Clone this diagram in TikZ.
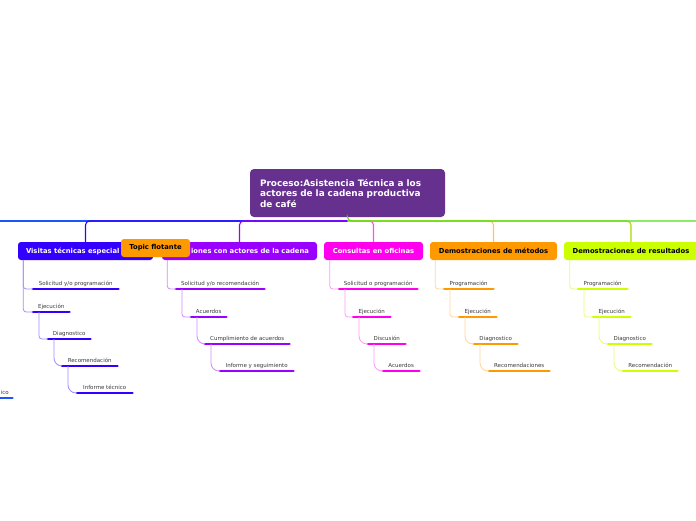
\documentclass[tikz,border=0pt]{standalone}
\usepackage{fontspec}
\setmainfont{DejaVu Sans}
\usetikzlibrary{calc}
\definecolor{cblue}{HTML}{3300FF}
\definecolor{offblue}{HTML}{1A55FF}
\definecolor{cpurple}{HTML}{9900FF}
\definecolor{cpink}{HTML}{FF00EE}
\definecolor{corange}{HTML}{FF9900}
\definecolor{cyellow}{HTML}{CCFF00}
\definecolor{cgreen}{HTML}{55E019}
\definecolor{cmain}{HTML}{66308F}
\definecolor{itemtext}{HTML}{3A3A3A}
\tikzset{
  maintopic/.style={fill=cmain, rounded corners=4pt, text=white, inner xsep=10pt, inner ysep=0pt,
    minimum height=48pt, text width=175pt, align=left,
    font=\bfseries\fontsize{8.9}{10.5}\selectfont},
  topicbox/.style={rounded corners=3pt, minimum height=18pt, inner sep=0pt,
    font=\bfseries\fontsize{6.8}{8}\selectfont},
  itembox/.style={font=\fontsize{5.5}{6.5}\selectfont, text=itemtext, anchor=south west,
    inner xsep=4.5pt, inner ysep=0pt, text height=4pt, text depth=3.7pt,
    append after command={(\tikzlastnode.south west) edge[line width=2.8pt, line cap=round, draw=#1] (\tikzlastnode.south east)}},
  mainline/.style={line width=1.1pt, rounded corners=4pt},
  conn/.style={line width=0.8pt, rounded corners=#1},
}
\begin{document}
\begin{tikzpicture}[x=1pt,y=-1pt]
\fill[white] (0,0) rectangle (696,520);
\useasboundingbox (0,0) rectangle (696,520);

% central topic
\node[maintopic] (center) at (347.5,193) {Proceso:Asistencia Técnica a los actores de la cadena productiva de café};

% main topics
\node[topicbox, fill=cblue, text=white, inner xsep=8pt, text width=119pt, align=left] (vis) at (85.5,251) {Visitas técnicas especial};
\node[topicbox, fill=cpurple, text=white, inner xsep=8pt, text width=139pt, align=right] (reu) at (239.5,251) {iones con actores de la cadena};
\node[topicbox, fill=cpink, text=white, minimum width=99pt] (con) at (373.5,251) {Consultas en oficinas};
\node[topicbox, fill=corange, text=black, minimum width=127pt] (met) at (493.5,251) {Demostraciones de métodos};
\node[topicbox, fill=cyellow, text=black, minimum width=134pt] (res) at (631,251) {Demostraciones de resultados};

% main connectors
\coordinate (hub) at (347.5,221);
\coordinate (edgeL) at (-2,221);
\coordinate (edgeR) at (698,221);
\draw[mainline, offblue] (hub) -- (edgeL);
\draw[mainline, cblue] (hub) -| (vis.north);
\draw[mainline, cpurple] (hub) -| (reu.north);
\draw[mainline, cpink!70!white] (hub) -| (con.north);
\draw[mainline, corange!60!white] (hub) -| (met.north);
\draw[mainline, cyellow!85!black] (hub) -| (res.north);
\draw[mainline, cgreen] (center.south) -- (hub) -- (edgeR);

% Visitas items
\node[itembox=cblue, minimum width=85pt] (v1) at (33,289) {Solicitud y/o programación};
\node[itembox=cblue, minimum width=36pt] (v2) at (33,312) {Ejecución};
\node[itembox=cblue, minimum width=42pt] (v3) at (48,339) {Diagnostico};
\node[itembox=cblue, minimum width=55pt] (v4) at (62,366) {Recomendación};
\node[itembox=cblue, minimum width=55pt] (v5) at (77,393) {Informe técnico};
\begin{scope}[draw=cblue!45!white]
\draw[conn=3pt] (vis.south west) ++(5.5,0) |- (v1.south west);
\draw[conn=3pt] (vis.south west) ++(5.5,0) |- (v2.south west);
\draw[conn=3pt] (v2.south west) ++(6,0) |- (v3.south west);
\draw[conn=8pt] (v3.south west) ++(6,0) |- (v4.south west);
\draw[conn=8pt] (v4.south west) ++(6,0) |- (v5.south west);
\end{scope}

% off-canvas item
\node[itembox=offblue, minimum width=15pt, inner xsep=3.5pt] (o1) at (-3,398) {ico};

% Reuniones items
\node[itembox=cpurple, minimum width=88pt] (r1) at (176,289) {Solicitud y/o recomendación};
\node[itembox=cpurple, minimum width=35pt] (r2) at (191,317) {Acuerdos};
\node[itembox=cpurple, minimum width=84pt] (r3) at (205,344) {Cumplimiento de acuerdos};
\node[itembox=cpurple, minimum width=73pt] (r4) at (220,371) {Informe y seguimiento};
\begin{scope}[draw=cpurple!45!white]
\draw[conn=3pt] (reu.south west) ++(5.5,0) |- (r1.south west);
\draw[conn=3pt] (r1.south west) ++(6,0) |- (r2.south west);
\draw[conn=8pt] (r2.south west) ++(6,0) |- (r3.south west);
\draw[conn=8pt] (r3.south west) ++(6,0) |- (r4.south west);
\end{scope}

% Consultas items
\node[itembox=cpink, minimum width=78pt] (c1) at (339,289) {Solicitud o programación};
\node[itembox=cpink, minimum width=37pt] (c2) at (353,317) {Ejecución};
\node[itembox=cpink, minimum width=37pt] (c3) at (368,344) {Discusión};
\node[itembox=cpink, minimum width=36pt] (c4) at (383,371) {Acuerdos};
\begin{scope}[draw=cpink!40!white]
\draw[conn=3pt] (con.south west) ++(6,0) |- (c1.south west);
\draw[conn=3pt] (c1.south west) ++(6,0) |- (c2.south west);
\draw[conn=8pt] (c2.south west) ++(6,0) |- (c3.south west);
\draw[conn=8pt] (c3.south west) ++(6,0) |- (c4.south west);
\end{scope}

% Métodos items
\node[itembox=corange, minimum width=49pt] (m1) at (444,289) {Programación};
\node[itembox=corange, minimum width=37pt] (m2) at (459,317) {Ejecución};
\node[itembox=corange, minimum width=43pt] (m3) at (474,344) {Diagnostico};
\node[itembox=corange, minimum width=60pt] (m4) at (489,371) {Recomendaciones};
\begin{scope}[draw=corange!40!white]
\draw[conn=3pt] (met.south west) ++(5.5,0) |- (m1.south west);
\draw[conn=3pt] (m1.south west) ++(6,0) |- (m2.south west);
\draw[conn=8pt] (m2.south west) ++(6,0) |- (m3.south west);
\draw[conn=8pt] (m3.south west) ++(6,0) |- (m4.south west);
\end{scope}

% Resultados items
\node[itembox=cyellow, minimum width=49pt] (s1) at (578,289) {Programación};
\node[itembox=cyellow, minimum width=37pt] (s2) at (593,317) {Ejecución};
\node[itembox=cyellow, minimum width=43pt] (s3) at (608,344) {Diagnostico};
\node[itembox=cyellow, minimum width=54pt] (s4) at (623,371) {Recomendación};
\begin{scope}[draw=cyellow!55!white]
\draw[conn=3pt] (res.south west) ++(6,0) |- (s1.south west);
\draw[conn=3pt] (s1.south west) ++(6,0) |- (s2.south west);
\draw[conn=8pt] (s2.south west) ++(6,0) |- (s3.south west);
\draw[conn=8pt] (s3.south west) ++(6,0) |- (s4.south west);
\end{scope}

% floating topic
\node[topicbox, fill=corange, text=black, minimum width=69pt] (float) at (155.5,248) {Topic flotante};
\end{tikzpicture}
\end{document}
